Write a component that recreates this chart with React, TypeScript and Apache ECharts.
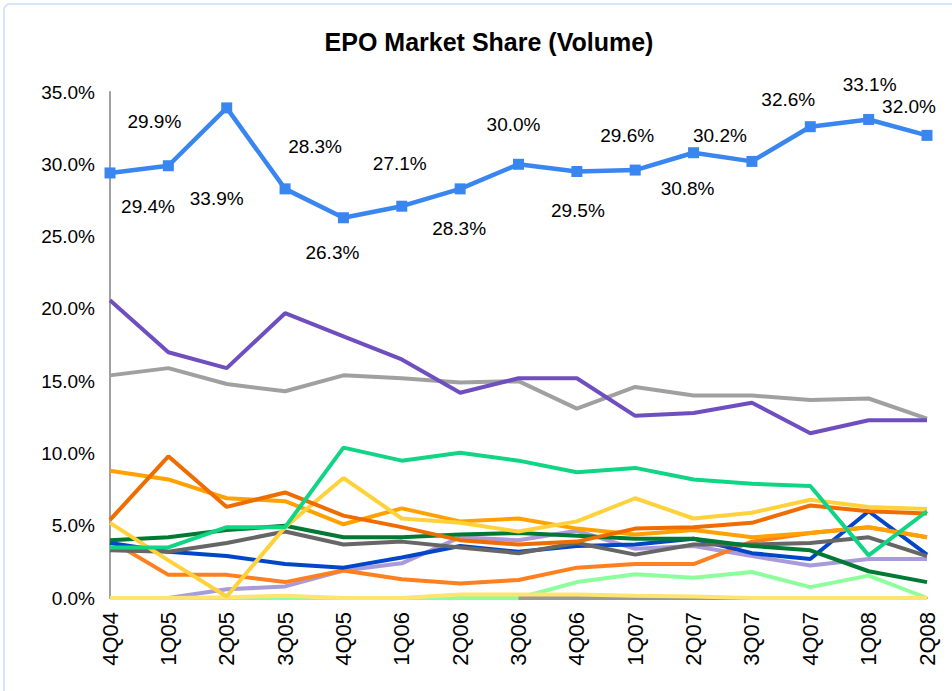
import React, { useEffect, useRef } from "react";
import * as echarts from "echarts";

const categories = ["4Q04","1Q05","2Q05","3Q05","4Q05","1Q06","2Q06","3Q06","4Q06","1Q07","2Q07","3Q07","4Q07","1Q08","2Q08"];

const mainShare = [29.4,29.9,33.9,28.3,26.3,27.1,28.3,30.0,29.5,29.6,30.8,30.2,32.6,33.1,32.0];
const purpleShare = [20.6,17.0,15.9,19.7,18.1,16.5,14.2,15.2,15.2,12.6,12.8,13.5,11.4,12.3,12.3];
const lightGrayShare = [15.4,15.9,14.8,14.3,15.4,15.2,14.9,15.0,13.1,14.6,14.0,14.0,13.7,13.8,12.4];
const mintShare = [3.5,3.5,4.9,4.9,10.4,9.5,10.05,9.5,8.7,9.0,8.2,7.9,7.75,2.95,6.0];
const amberShare = [8.8,8.2,6.9,6.7,5.1,6.2,5.3,5.5,4.8,4.4,4.7,4.2,4.5,4.9,4.2];
const darkOrangeShare = [5.4,9.8,6.3,7.3,5.7,4.9,4.0,3.7,3.9,4.8,4.9,5.2,6.4,6.0,5.85];
const yellowShare = [5.2,2.6,0.1,4.9,8.3,5.5,5.2,4.6,5.3,6.9,5.5,5.9,6.8,6.3,6.15];
const darkGreenShare = [4.0,4.2,4.7,5.0,4.2,4.2,4.4,4.5,4.3,4.1,4.1,3.6,3.3,1.85,1.1];
const darkGrayShare = [3.3,3.2,3.8,4.6,3.7,3.9,3.5,3.1,3.8,3.0,3.7,3.7,3.8,4.2,2.9];
const blueShare = [3.8,3.2,2.9,2.35,2.1,2.8,3.6,3.2,3.6,3.7,4.1,3.1,2.7,6.0,3.0];
const lavenderShare = [0,0,0.6,0.8,1.9,2.4,4.2,4.0,4.65,3.4,3.6,2.9,2.25,2.7,2.7];
const orangeShare = [4.0,1.6,1.6,1.1,1.9,1.3,1.0,1.25,2.1,2.35,2.35,3.9,4.5,4.9,4.2];
const lightGreenShare = [0,0,0,0,0,0,0,0,1.1,1.65,1.4,1.8,0.75,1.55,0];
const nearZeroGrayShare = [null,null,null,null,null,null,null,0,0,0,0,0,0,0,0];
const lightYellowShare = [0,0,0.05,0.15,0,0,0.25,0.25,0.25,0.15,0.1,0,0,0,0];

const yTicks = [0, 5, 10, 15, 20, 25, 30, 35];

// label offsets (manual placement like the original)
const mainLabelOffsets: [number, number][] = [
  [38, 34], [-14, -44], [-10, 91], [30, -42], [-11, 35], [-2, -43], [-1, 40],
  [-5, -40], [1, 39], [-8, -35], [-6, 36], [-32, -26], [-22, -27], [1, -35], [-18, -29],
];

const FONT = "'Liberation Sans', Arial, sans-serif";

function lineSeries(name: string, data: (number | null)[], color: string, width = 4) {
  return {
    name,
    type: "line",
    data,
    symbol: "none",
    lineStyle: { color, width },
    itemStyle: { color },
    z: 2,
  };
}

export default function App() {
  const ref = useRef<HTMLDivElement>(null);
  useEffect(() => {
    if (!ref.current) return;
    const chart = echarts.init(ref.current, null, { renderer: "svg" });
    const option = {
      animation: false,
      backgroundColor: "#ffffff",
      title: {
        text: "EPO Market Share (Volume)",
        left: 484,
        top: 24,
        textAlign: "center",
        textStyle: { fontFamily: FONT, fontSize: 25, fontWeight: "bold", color: "#000" },
      },
      graphic: [
        {
          type: "rect",
          shape: { x: 4, y: 4, width: 980, height: 720, r: 6 },
          style: { fill: "none", stroke: "#d6e6f6", lineWidth: 2 },
          silent: true,
        },
      ],
      grid: { left: 110, right: 25, top: 92, bottom: 93 },
      xAxis: {
        type: "category",
        data: categories,
        boundaryGap: false,
        axisLine: { show: true, lineStyle: { color: "#a0a0a0", width: 2 } },
        axisTick: { show: false },
        axisLabel: {
          rotate: 90,
          margin: 14,
          fontFamily: FONT,
          fontSize: 22,
          color: "#000",
          interval: 0,
        },
      },
      yAxis: {
        type: "value",
        min: 0,
        max: 35,
        interval: 5,
        axisLine: { show: true, lineStyle: { color: "#a0a0a0", width: 2 } },
        axisTick: { show: false },
        splitLine: { show: false },
        axisLabel: {
          margin: 15,
          fontFamily: FONT,
          fontSize: 19,
          color: "#000",
          formatter: (v: number) => (yTicks.includes(v) ? v.toFixed(1) + "%" : ""),
        },
      },
      series: [
        lineSeries("Light Green", lightGreenShare, "#8cff9c"),
        lineSeries("Near Zero Gray", nearZeroGrayShare, "#9a9a9a"),
        lineSeries("Lavender", lavenderShare, "#a99ad9"),
        lineSeries("Light Yellow", lightYellowShare, "#ffe470"),
        lineSeries("Orange", orangeShare, "#ff8020"),
        lineSeries("Blue", blueShare, "#0046c8"),
        lineSeries("Dark Gray", darkGrayShare, "#666666"),
        lineSeries("Dark Green", darkGreenShare, "#007a33"),
        lineSeries("Amber", amberShare, "#ffa200"),
        lineSeries("Yellow", yellowShare, "#ffd23c"),
        lineSeries("Dark Orange", darkOrangeShare, "#ef6c00"),
        lineSeries("Mint", mintShare, "#10d585"),
        lineSeries("Light Gray", lightGrayShare, "#a0a0a0"),
        lineSeries("Purple", purpleShare, "#6f4fbf"),
        {
          name: "Main",
          type: "line",
          z: 5,
          data: mainShare.map((v, i) => ({
            value: v,
            label: {
              show: true,
              position: "inside",
              offset: mainLabelOffsets[i],
            },
          })),
          symbol: "rect",
          symbolSize: 11,
          lineStyle: { color: "#3a86f0", width: 4.5 },
          itemStyle: { color: "#3a86f0" },
          label: {
            show: true,
            position: "inside",
            fontFamily: FONT,
            fontSize: 19,
            color: "#000",
            formatter: (p: any) => Number(p.value).toFixed(1) + "%",
          },
        },
      ],
    };
    chart.setOption(option as any);
    return () => chart.dispose();
  }, []);
  return (
    <div
      ref={ref}
      style={{ position: "fixed", left: 0, top: 0, width: 952, height: 691 }}
    />
  );
}
